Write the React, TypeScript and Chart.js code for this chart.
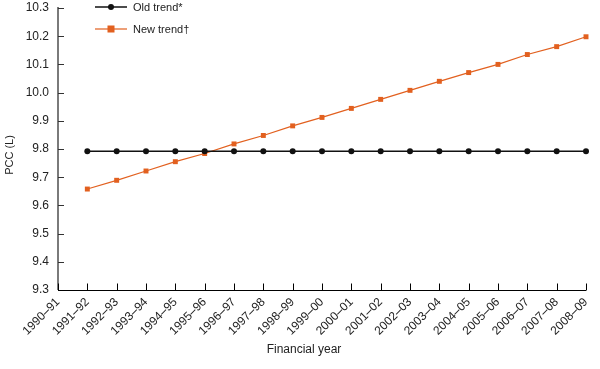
import React, { useEffect, useRef } from "react";
import { Chart, registerables } from "chart.js";

Chart.register(...registerables);

const categories = [
  "1990–91", "1991–92", "1992–93", "1993–94", "1994–95", "1995–96", "1996–97",
  "1997–98", "1998–99", "1999–00", "2000–01", "2001–02", "2002–03", "2003–04",
  "2004–05", "2005–06", "2006–07", "2007–08", "2008–09",
];

const oldTrend = [
  null, 9.792, 9.792, 9.792, 9.792, 9.792, 9.792, 9.792, 9.792, 9.792,
  9.792, 9.792, 9.792, 9.792, 9.792, 9.792, 9.792, 9.792, 9.792,
];

const newTrend = [
  null, 9.658, 9.689, 9.722, 9.755, 9.784, 9.818, 9.848, 9.882, 9.912,
  9.944, 9.976, 10.008, 10.04, 10.071, 10.1, 10.135, 10.163, 10.198,
];

const seriesNames = ["Old trend*", "New trend†"];
const yTitle = "PCC (L)";
const xTitle = "Financial year";
const yMin = 9.3;
const yMax = 10.3;
const yStep = 0.1;

const BLACK = "#111111";
const ORANGE = "#E2601F";
const FONT = "'Liberation Sans', Arial, Helvetica, sans-serif";

const decorPlugin = {
  id: "decor",
  afterDraw(chart: any) {
    const ctx = chart.ctx;
    const x = chart.scales.x;
    const y = chart.scales.y;
    const area = chart.chartArea;
    ctx.save();
    // y axis line (gray)
    ctx.strokeStyle = "#7a7a7a";
    ctx.lineWidth = 2;
    ctx.beginPath();
    ctx.moveTo(area.left, area.top - 1);
    ctx.lineTo(area.left, area.bottom);
    ctx.stroke();
    // y ticks inward
    ctx.strokeStyle = "#333";
    ctx.lineWidth = 1;
    y.ticks.forEach((_t: any, i: number) => {
      const py = Math.round(y.getPixelForTick(i)) + 0.5;
      ctx.beginPath();
      ctx.moveTo(area.left, py);
      ctx.lineTo(area.left + 6, py);
      ctx.stroke();
    });
    // x axis line
    ctx.strokeStyle = "#000";
    ctx.beginPath();
    const by = Math.round(area.bottom) + 0.5;
    ctx.moveTo(area.left, by);
    ctx.lineTo(area.right, by);
    ctx.stroke();
    // x ticks inward
    x.ticks.forEach((_t: any, i: number) => {
      const px = Math.round(x.getPixelForTick(i)) + 0.5;
      ctx.beginPath();
      ctx.moveTo(px, by);
      ctx.lineTo(px, by - 7);
      ctx.stroke();
    });
    // titles
    ctx.fillStyle = "#222";
    ctx.font = `12px ${FONT}`;
    ctx.textAlign = "center";
    ctx.textBaseline = "middle";
    ctx.fillText(xTitle, 304, 350);
    ctx.save();
    ctx.translate(10, 155);
    ctx.rotate(-Math.PI / 2);
    ctx.font = `11px ${FONT}`;
    ctx.fillText(yTitle, 0, 0);
    ctx.restore();
    // legend
    const items = chart.data.datasets;
    items.forEach((ds: any, i: number) => {
      const ly = 7 + i * 22;
      ctx.strokeStyle = ds.borderColor;
      ctx.lineWidth = ds.borderWidth;
      ctx.beginPath();
      ctx.moveTo(95, ly);
      ctx.lineTo(127, ly);
      ctx.stroke();
      ctx.fillStyle = ds.pointBackgroundColor;
      if (ds.pointStyle === "rect") {
        ctx.fillRect(111 - 3.5, ly - 3.5, 7, 7);
      } else {
        ctx.beginPath();
        ctx.arc(111, ly, 3, 0, Math.PI * 2);
        ctx.fill();
      }
      ctx.fillStyle = "#222";
      ctx.font = `11px ${FONT}`;
      ctx.textAlign = "left";
      ctx.textBaseline = "middle";
      ctx.fillText(ds.label, 133, ly + 1);
    });
    ctx.restore();
  },
};

export default function App() {
  const ref = useRef<HTMLCanvasElement>(null);
  useEffect(() => {
    if (!ref.current) return;
    const chart = new Chart(ref.current, {
      type: "line",
      data: {
        labels: categories,
        datasets: [
          {
            label: seriesNames[0],
            data: oldTrend,
            borderColor: BLACK,
            backgroundColor: BLACK,
            pointBackgroundColor: BLACK,
            pointBorderColor: BLACK,
            borderWidth: 1.5,
            pointStyle: "circle",
            pointRadius: 3,
            pointBorderWidth: 0,
            tension: 0,
          },
          {
            label: seriesNames[1],
            data: newTrend,
            borderColor: ORANGE,
            backgroundColor: ORANGE,
            pointBackgroundColor: ORANGE,
            pointBorderColor: ORANGE,
            borderWidth: 1.2,
            pointStyle: "rect",
            pointRadius: 3.5,
            pointBorderWidth: 0,
            tension: 0,
          },
        ],
      },
      options: {
        animation: false,
        responsive: true,
        maintainAspectRatio: false,
        layout: { padding: { top: 8, right: 14, left: 0, bottom: 0 } },
        plugins: {
          legend: { display: false },
          tooltip: { enabled: false },
        },
        scales: {
          x: {
            type: "category",
            offset: false,
            grid: { display: false, drawTicks: false },
            border: { display: false },
            ticks: {
              autoSkip: false,
              minRotation: 45,
              maxRotation: 45,
              padding: 5,
              color: "#222",
              font: { family: FONT, size: 12 },
            },
            afterFit(scale: any) {
              scale.height = 79;
              scale.paddingRight = 0;
            },
          },
          y: {
            min: yMin,
            max: yMax,
            grid: { display: false, drawTicks: false },
            border: { display: false },
            ticks: {
              stepSize: yStep,
              padding: 9,
              color: "#222",
              font: { family: FONT, size: 12 },
              callback: (v: any) => Number(v).toFixed(1),
            },
            afterFit(scale: any) {
              scale.width = 58;
              scale.paddingTop = 0;
              scale.paddingBottom = 0;
            },
          },
        },
      },
      plugins: [decorPlugin],
    });
    return () => chart.destroy();
  }, []);
  return (
    <div style={{ position: "absolute", left: 0, top: 0, width: 600, height: 369 }}>
      <canvas ref={ref} />
    </div>
  );
}
